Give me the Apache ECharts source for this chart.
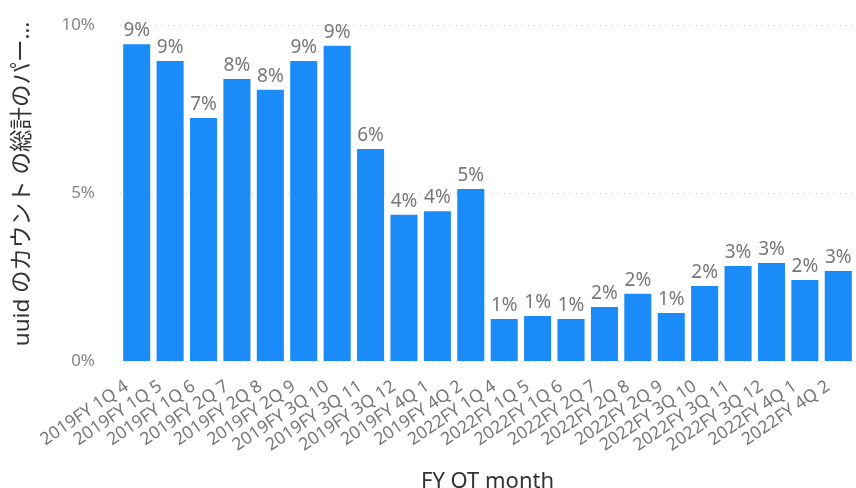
<!DOCTYPE html>
<html>
<head>
<meta charset="utf-8">
<script src="https://cdn.jsdelivr.net/npm/echarts@6/dist/echarts.min.js"></script>
<style>
html,body{margin:0;padding:0;background:#fff;}
#chart{width:856px;height:488px;}
</style>
</head>
<body>
<div id="chart"></div>
<script>
var categories = [
  "2019FY 1Q 4","2019FY 1Q 5","2019FY 1Q 6","2019FY 2Q 7","2019FY 2Q 8","2019FY 2Q 9",
  "2019FY 3Q 10","2019FY 3Q 11","2019FY 3Q 12","2019FY 4Q 1","2019FY 4Q 2",
  "2022FY 1Q 4","2022FY 1Q 5","2022FY 1Q 6","2022FY 2Q 7","2022FY 2Q 8","2022FY 2Q 9",
  "2022FY 3Q 10","2022FY 3Q 11","2022FY 3Q 12","2022FY 4Q 1","2022FY 4Q 2"
];
var sharePercent = [
  9.43, 8.93, 7.23, 8.39, 8.07, 8.93,
  9.38, 6.31, 4.35, 4.46, 5.12,
  1.25, 1.34, 1.25, 1.61, 2.00, 1.43,
  2.23, 2.83, 2.92, 2.41, 2.68
];
var yTicks = [0, 5, 10];
var yAxisName = "uuid のカウント の総計のパー…";
var xAxisName = "FY QT month";

var FONT = '"Noto Sans", "Noto Sans CJK JP", sans-serif';
var chart = echarts.init(document.getElementById('chart'));
chart.setOption({
  animation: false,
  textStyle: { fontFamily: FONT },
  grid: { left: 120, right: 1, top: 25, bottom: 127, containLabel: false, outerBoundsMode: 'none' },
  xAxis: {
    type: 'category',
    data: categories,
    name: xAxisName,
    nameLocation: 'middle',
    nameGap: 110,
    nameTextStyle: { fontSize: 22, color: '#333', fontFamily: FONT },
    axisLine: { show: false },
    axisTick: { show: false },
    axisLabel: { rotate: 34, fontSize: 17.5, color: '#777', margin: 17, padding: [0, 12, 0, 0], interval: 0, fontFamily: FONT }
  },
  yAxis: {
    type: 'value',
    min: yTicks[0],
    max: yTicks[yTicks.length - 1],
    interval: 5,
    name: yAxisName,
    nameLocation: 'middle',
    nameRotate: 90,
    nameGap: 86,
    nameTextStyle: { fontSize: 22.5, color: '#333', fontFamily: FONT, padding: [0, 0, 0, 18] },
    axisLine: { show: false },
    axisTick: { show: false },
    axisLabel: { formatter: '{value}%', fontSize: 17, color: '#888', margin: 25, fontFamily: FONT },
    splitLine: { show: true, lineStyle: { type: [1, 5], color: '#c8c8c8', width: 1 } }
  },
  series: [{
    type: 'bar',
    data: sharePercent,
    barCategoryGap: '19%',
    itemStyle: { color: '#1A8BF7' },
    label: {
      show: true,
      position: 'top',
      distance: 4,
      fontSize: 19,
      color: '#777',
      fontFamily: FONT,
      formatter: function (p) { return Math.round(p.value) + '%'; }
    }
  }]
});
</script>
</body>
</html>
